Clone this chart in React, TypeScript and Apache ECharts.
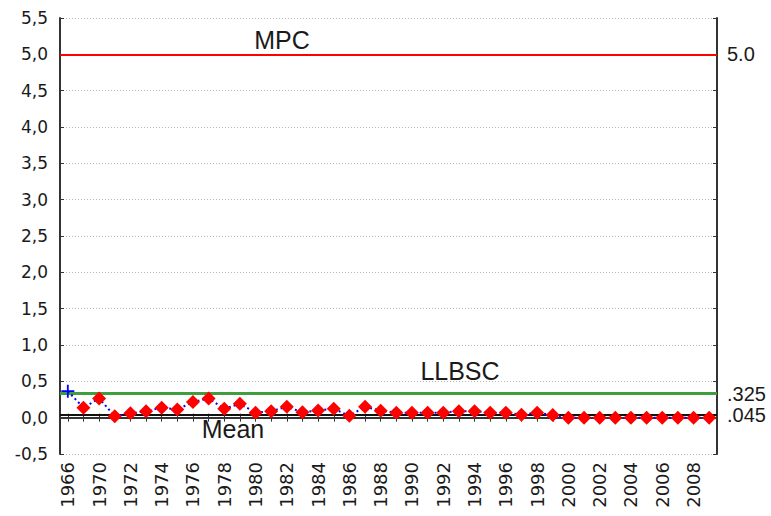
import React, { useEffect, useRef } from "react";
import * as echarts from "echarts";

const years = [
  "1966", "1968", "1970", "1971", "1972", "1973", "1974", "1975", "1976", "1977",
  "1978", "1979", "1980", "1981", "1982", "1983", "1984", "1985", "1986", "1987",
  "1988", "1989", "1990", "1991", "1992", "1993", "1994", "1995", "1996", "1997",
  "1998", "1999", "2000", "2001", "2002", "2003", "2004", "2005", "2006", "2007",
  "2008", "2009",
];

const values = [
  0.365, 0.137, 0.265, 0.02, 0.06, 0.09, 0.137, 0.114, 0.214, 0.265,
  0.123, 0.19, 0.069, 0.09, 0.15, 0.075, 0.1, 0.123, 0.025, 0.15,
  0.095, 0.069, 0.069, 0.069, 0.069, 0.09, 0.09, 0.069, 0.069, 0.04,
  0.069, 0.035, 0, 0, 0, 0, 0, 0, 0, 0,
  0, 0,
];

const MPC = 5.0;
const LLBSC = 0.325;
const MEAN = 0.045;
const refLabels = ["5.0", ".325", ".045"];

const Y_MIN = -0.5;
const Y_MAX = 5.5;
const Y_STEP = 0.5;

const crossPath = "path://M4.3,0H5.7V4.3H10V5.7H5.7V10H4.3V5.7H0V4.3H4.3Z";

export default function App() {
  const ref = useRef<HTMLDivElement>(null);

  useEffect(() => {
    if (!ref.current) return;
    const chart = echarts.init(ref.current, undefined, { renderer: "svg" });

    const axisLine = { show: true, lineStyle: { color: "#333", width: 2 } };

    const seriesData = values.map((v, i) =>
      i === 0
        ? { value: v, symbol: crossPath, symbolSize: 13, itemStyle: { color: "#0000ff" } }
        : { value: v }
    );

    const refLabel = {
      show: true,
      position: "end",
      distance: 10,
      fontFamily: "Liberation Sans",
      fontSize: 20,
      color: "#1a1a1a",
    };

    chart.setOption({
      animation: false,
      backgroundColor: "#ffffff",
      grid: { left: 60, right: 54, top: 18, bottom: 62 },
      xAxis: [
        {
          type: "category",
          data: years,
          boundaryGap: true,
          axisLine,
          axisTick: { show: true, inside: true, alignWithLabel: true, interval: 0, length: 4, lineStyle: { color: "#333" } },
          axisLabel: { fontFamily: "DejaVu Sans", fontSize: 18, color: "#1a1a1a", rotate: 90, interval: 1, margin: 8 },
          splitLine: { show: false },
        },
        {
          type: "category",
          data: years,
          position: "top",
          boundaryGap: true,
          axisLine,
          axisTick: { show: true, inside: true, alignWithLabel: true, interval: 0, length: 4, lineStyle: { color: "#333" } },
          axisLabel: { show: false },
          splitLine: { show: false },
        },
      ],
      yAxis: [
        {
          type: "value",
          min: Y_MIN,
          max: Y_MAX,
          interval: Y_STEP,
          axisLine,
          axisTick: { show: true, inside: true, length: 4, lineStyle: { color: "#333" } },
          axisLabel: {
            fontFamily: "DejaVu Sans",
            fontSize: 17,
            color: "#1a1a1a",
            margin: 12,
            formatter: (v: number) => v.toFixed(1).replace(".", ","),
          },
          splitLine: { show: true, lineStyle: { color: "#b8b8b8", width: 1, type: [1, 2] } },
        },
        {
          type: "value",
          position: "right",
          min: Y_MIN,
          max: Y_MAX,
          interval: Y_STEP,
          axisLine,
          axisTick: { show: true, inside: true, length: 4, lineStyle: { color: "#333" } },
          axisLabel: { show: false },
          splitLine: { show: false },
        },
      ],
      series: [
        {
          type: "line",
          data: [],
          z: 1,
          silent: true,
          markLine: {
            silent: true,
            symbol: "none",
            animation: false,
            data: [
              { yAxis: MPC, lineStyle: { color: "#ff0000", width: 2, type: "solid" }, label: { ...refLabel, formatter: refLabels[0] } },
              { yAxis: LLBSC, lineStyle: { color: "#3f9f3f", width: 3, type: "solid" }, label: { ...refLabel, formatter: refLabels[1] } },
              { yAxis: MEAN, lineStyle: { color: "#111111", width: 2, type: "solid" }, label: { ...refLabel, formatter: refLabels[2] } },
            ],
          },
        },
        {
          type: "line",
          data: seriesData,
          z: 5,
          symbol: "diamond",
          symbolSize: [14, 14],
          showAllSymbol: true,
          itemStyle: { color: "#ff0000" },
          lineStyle: { color: "#0000ff", width: 2, type: [2, 3] },
        },
      ],
      graphic: [
        {
          type: "text",
          x: 282,
          y: 40,
          style: { text: "MPC", fontFamily: "Liberation Sans", fontSize: 25, fill: "#1a1a1a", align: "center", verticalAlign: "middle" },
        },
        {
          type: "text",
          x: 460,
          y: 371,
          style: { text: "LLBSC", fontFamily: "Liberation Sans", fontSize: 25, fill: "#1a1a1a", align: "center", verticalAlign: "middle" },
        },
        {
          type: "text",
          x: 233,
          y: 429,
          style: { text: "Mean", fontFamily: "Liberation Sans", fontSize: 25, fill: "#1a1a1a", align: "center", verticalAlign: "middle" },
        },
      ],
    });

    return () => chart.dispose();
  }, []);

  return (
    <div
      ref={ref}
      style={{ position: "fixed", left: 0, top: 0, width: 771, height: 516, background: "#fff" }}
    />
  );
}
